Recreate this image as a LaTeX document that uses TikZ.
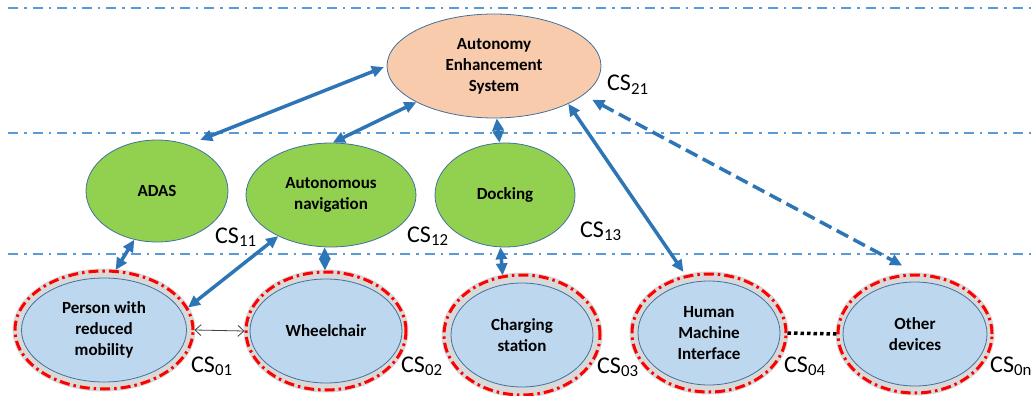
\documentclass[tikz,border=0pt]{standalone}
\usepackage{fontspec}
\setmainfont{Carlito}
\usetikzlibrary{shapes.geometric,arrows.meta}

\definecolor{arrblue}{HTML}{2E75B6}
\definecolor{lineblue}{HTML}{5B9BD5}
\definecolor{edgeblue}{HTML}{41719C}
\definecolor{peach}{HTML}{F8CBAD}
\definecolor{leaf}{HTML}{92D050}
\definecolor{pale}{HTML}{BDD7EE}
\definecolor{halo}{HTML}{D9D9D9}

\tikzset{
	sys/.style={ellipse, draw=edgeblue, line width=0.8pt, inner sep=0pt, align=center, font=\fontsize{17}{21}\selectfont\bfseries},
	top/.style={sys, fill=peach},
	sub/.style={sys, fill=leaf},
	dev/.style={sys, fill=pale},
	ring/.style={ellipse, inner sep=0pt, fill=halo, draw=red, line width=3pt, dash pattern=on 10pt off 4pt on 2.5pt off 4pt, preaction={draw=halo, solid, line width=5pt}},
	cs/.style={anchor=base west, inner sep=0pt, font=\fontsize{24}{24}\selectfont},
	level/.style={lineblue, line width=1.6pt, dash pattern=on 10pt off 6pt on 2.5pt off 6pt},
	link/.style={arrblue, line width=3.5pt, {Triangle[length=12pt,width=11pt]}-{Triangle[length=12pt,width=11pt]}},
	broken/.style={dash pattern=on 13pt off 6pt},
	pair/.style={black!75, line width=0.8pt, {Straight Barb[length=6pt,width=11pt]}-{Straight Barb[length=6pt,width=11pt]}},
	dots/.style={black, line width=3.5pt, dash pattern=on 3.5pt off 3pt},
}

\begin{document}
\begin{tikzpicture}[x=1pt,y=-1pt]
		\useasboundingbox (0,0) rectangle (1034,396);
		% levels
		\draw [level] (8,8) -- (1034,8);
		\draw [level] (8,133) -- (1034,133);
		\draw [level] (8,254) -- (1034,254);
		% level 2
		\node [top, minimum width=214pt, minimum height=104pt] (aes) at (494,66) {Autonomy\\Enhancement\\System};
		\node [cs] (cs21) at (607,91) {CS\textsubscript{21}};
		% level 1
		\node [sub, minimum width=142pt, minimum height=102pt] (adas) at (157,191) {ADAS};
		\node [sub, minimum width=170pt, minimum height=104pt] (nav) at (331,195) {Autonomous\\navigation};
		\node [sub, minimum width=140pt, minimum height=104pt] (dock) at (505,195) {Docking};
		\node [cs] (cs11) at (215,243) {CS\textsubscript{11}};
		\node [cs] (cs12) at (407,242) {CS\textsubscript{12}};
		\node [cs] (cs13) at (580,237) {CS\textsubscript{13}};
		% level 0
		\node [ring, minimum width=178pt, minimum height=118pt] (person) at (104,330) {};
		\node [dev, minimum width=165pt, minimum height=104pt] (person-in) at (person) {Person with\\reduced\\mobility};
		\node [ring, minimum width=160pt, minimum height=118pt] (wheel) at (326,331) {};
		\node [dev, minimum width=152pt, minimum height=104pt] (wheel-in) at (wheel) {Wheelchair};
		\node [ring, minimum width=156pt, minimum height=120pt] (charge) at (522,335) {};
		\node [dev, minimum width=142pt, minimum height=104pt] (charge-in) at (charge) {Charging\\station};
		\node [ring, minimum width=154pt, minimum height=118pt] (hmi) at (709,333) {};
		\node [dev, minimum width=142pt, minimum height=104pt] (hmi-in) at (hmi) {Human\\Machine\\Interface};
		\node [ring, minimum width=154pt, minimum height=118pt] (other) at (915,334) {};
		\node [dev, minimum width=144pt, minimum height=104pt] (other-in) at (other) {Other\\devices};
		\node [cs] (cs01) at (191,372) {CS\textsubscript{01}};
		\node [cs] (cs02) at (401,372) {CS\textsubscript{02}};
		\node [cs] (cs03) at (597,373) {CS\textsubscript{03}};
		\node [cs] (cs04) at (784,372) {CS\textsubscript{04}};
		\node [cs] (cs0n) at (990,372) {CS\textsubscript{0n}};
		% links
		\draw [link, shorten <=3pt, shorten >=13pt] (aes.180) -- (adas.56);
		\draw [link] (aes.205) -- (nav.88);
		\draw [link] (aes.273) -- (dock.96);
		\draw [link, shorten >=4pt] (aes.333) -- (hmi.112);
		\draw [link, broken, shorten <=10pt, shorten >=17pt] (aes.342) -- (other.88);
		\draw [link] (adas.245) -- (person.79);
		\draw [link] (nav.218) -- (person.15);
		\draw [link] (nav.263) -- (wheel.91);
		\draw [link] (dock.265) -- (charge.108);
		\draw [pair] (person.east) -- (wheel.west);
		\draw [dots] (hmi.east) -- (other.west);
	\end{tikzpicture}
\end{document}
